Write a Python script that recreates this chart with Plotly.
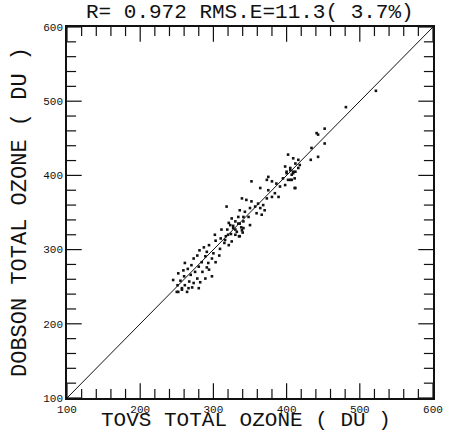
import plotly.graph_objects as go

# TOVS total ozone (DU) vs Dobson total ozone (DU)
tovs = [321, 327, 334, 338, 330, 319, 324, 335, 340, 317, 310, 302, 303, 315, 321, 309,
        294, 287, 281, 291, 300, 308, 298, 289, 278, 273, 284, 293, 303, 291, 280, 270,
        265, 261, 259, 275, 285, 294, 269, 260, 255, 267, 278, 282, 261, 271, 257, 252,
        264, 273, 280, 251, 289, 298, 311, 341,
        245, 252, 250, 257, 266,
        398, 405, 409, 400, 411, 405, 395, 375, 380, 373, 386, 391, 398, 411, 364, 375,
        384, 389, 380, 373, 352, 339, 345, 352, 361, 368, 357, 364, 370, 350, 336, 343,
        359, 366, 341, 348, 334, 325, 330, 336, 350, 323, 327, 332, 339, 320, 330, 336,
        318, 341, 316, 325,
        441, 443, 452, 452, 434, 443, 433, 402, 409, 416, 418, 412, 405, 400, 412, 407,
        402, 407, 412, 409, 416,
        481, 522]
dobson = [336, 332, 335, 330, 327, 327, 321, 318, 323, 318, 315, 320, 312, 309, 306, 301,
          306, 303, 299, 297, 295, 292, 288, 291, 292, 288, 283, 282, 283, 276, 277, 279,
          274, 282, 272, 270, 270, 273, 266, 264, 258, 257, 261, 256, 252, 249, 248, 243,
          243, 255, 248, 252, 261, 264, 327, 338,
          259, 268, 243, 246, 248,
          412, 407, 405, 403, 396, 394, 396, 398, 392, 394, 389, 385, 387, 383, 383, 380,
          376, 371, 371, 369, 392, 369, 367, 365, 362, 360, 358, 356, 353, 356, 353, 351,
          349, 347, 344, 344, 344, 342, 338, 335, 333, 333, 329, 324, 326, 320, 320, 318,
          358, 329, 313, 311,
          457, 455, 463, 443, 437, 425, 421, 428, 423, 421, 414, 416, 410, 405, 405, 401,
          394, 394, 383, 403, 410,
          492, 514]

one_to_one = [100, 600]

# axis tick values (same on both axes)
axis_min = 100
axis_max = 600
major_ticks = [100, 200, 300, 400, 500, 600]
minor_ticks = [120, 140, 160, 180, 220, 240, 260, 280, 320, 340, 360, 380,
               420, 440, 460, 480, 520, 540, 560, 580]

title_text = "R= 0.972 RMS.E=11.3( 3.7%)"
x_title = "TOVS TOTAL OZONE ( DU )"
y_title = "DOBSON TOTAL OZONE ( DU )"

FONT = "Liberation Mono"
INK = "#111111"

fig = go.Figure()
fig.add_trace(go.Scatter(x=one_to_one, y=one_to_one, mode="lines",
                         line=dict(color=INK, width=1), hoverinfo="skip"))
fig.add_trace(go.Scatter(x=tovs, y=dobson, mode="markers",
                         marker=dict(symbol="square", size=2.6, color=INK)))


def tick_marks(vals, size):
    n = len(vals)
    # ticks on bottom and top edges (vertical strokes), clipped to the plot area
    fig.add_trace(go.Scatter(
        x=vals + vals, y=[axis_min] * n + [axis_max] * n, mode="markers",
        cliponaxis=True, hoverinfo="skip",
        marker=dict(symbol="line-ns-open", size=size, color=INK,
                    line=dict(color=INK, width=1.2))))
    # ticks on left and right edges (horizontal strokes)
    fig.add_trace(go.Scatter(
        x=[axis_min] * n + [axis_max] * n, y=vals + vals, mode="markers",
        cliponaxis=True, hoverinfo="skip",
        marker=dict(symbol="line-ew-open", size=size, color=INK,
                    line=dict(color=INK, width=1.2))))


tick_marks(major_ticks, 21)
tick_marks(minor_ticks, 13)

axis_common = dict(
    range=[axis_min, axis_max], tickmode="array", tickvals=major_ticks,
    ticks="", showline=True, mirror=True, linecolor=INK, linewidth=1.5,
    showgrid=False, zeroline=False,
    tickfont=dict(family=FONT, size=11, color=INK),
)

fig.update_layout(
    template="none",
    width=451, height=430,
    margin=dict(l=67, r=18, t=27, b=32),
    paper_bgcolor="white", plot_bgcolor="white",
    showlegend=False,
    xaxis=dict(**axis_common),
    yaxis=dict(**axis_common),
    annotations=[
        dict(text=title_text, xref="paper", yref="paper", x=0.5, y=1.038,
             xanchor="center", yanchor="middle", showarrow=False,
             font=dict(family=FONT, size=21, color=INK)),
        dict(text=x_title, xref="paper", yref="paper", x=0.49, y=-0.06,
             xanchor="center", yanchor="middle", showarrow=False,
             font=dict(family=FONT, size=21, color=INK)),
        dict(text=y_title, xref="paper", yref="paper", x=-0.127, y=0.5,
             xanchor="center", yanchor="middle", showarrow=False, textangle=-90,
             font=dict(family=FONT, size=22, color=INK)),
    ],
)

fig.write_html("out.html", config={"displayModeBar": False},
               post_script="document.body.style.margin='0';")
